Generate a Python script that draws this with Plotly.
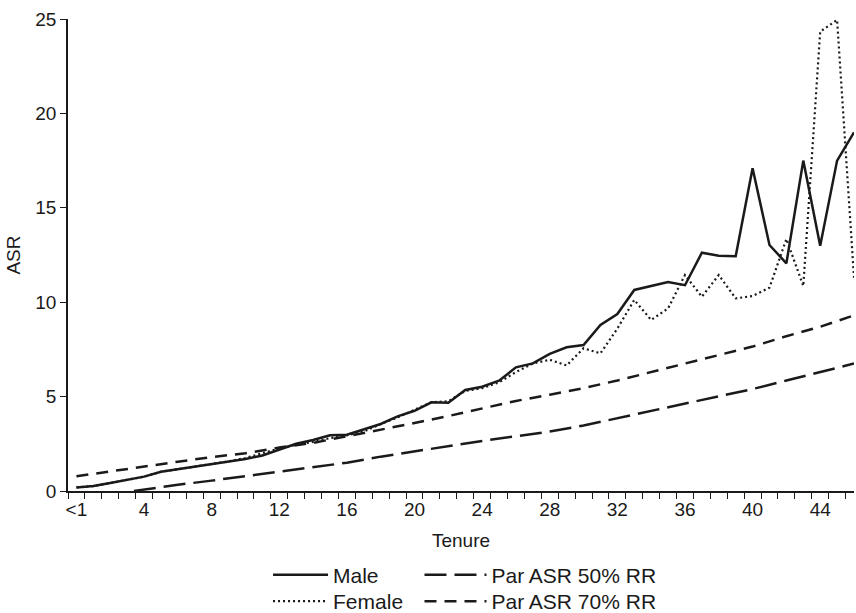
import plotly.graph_objects as go

tenure = list(range(0, 47))
tick_vals = [0, 4, 8, 12, 16, 20, 24, 28, 32, 36, 40, 44]
tick_text = ["<1", "4", "8", "12", "16", "20", "24", "28", "32", "36", "40", "44"]

male = [0.19, 0.26, 0.42, 0.60, 0.76, 1.02, 1.15, 1.30, 1.42, 1.55, 1.70, 1.88,
        2.20, 2.50, 2.70, 2.95, 2.98, 3.25, 3.55, 3.95, 4.25, 4.70, 4.68, 5.35,
        5.52, 5.84, 6.55, 6.76, 7.26, 7.61, 7.73, 8.79, 9.37, 10.65, 10.86, 11.07,
        10.90, 12.62, 12.46, 12.43, 17.09, 13.03, 12.06, 17.50, 12.99, 17.50, 19.00]

female = [0.19, 0.26, 0.42, 0.60, 0.76, 1.02, 1.15, 1.30, 1.42, 1.57, 1.75, 2.00,
          2.25, 2.45, 2.60, 2.80, 2.95, 3.15, 3.55, 3.90, 4.30, 4.70, 4.75, 5.30,
          5.45, 5.75, 6.30, 6.75, 6.95, 6.65, 7.56, 7.29, 8.60, 10.12, 9.06, 9.67,
          11.44, 10.29, 11.44, 10.20, 10.33, 10.77, 13.35, 10.86, 24.33, 24.95, 11.30]

par_tenure = [0, 2, 4, 6, 8, 10, 12, 14, 16, 18, 20, 22, 24, 26, 28, 30, 32, 34,
              36, 38, 40, 42, 44, 46]
par70 = [0.78, 1.05, 1.30, 1.55, 1.80, 2.00, 2.30, 2.55, 2.90, 3.23, 3.60, 3.97,
         4.35, 4.77, 5.10, 5.45, 5.85, 6.30, 6.75, 7.20, 7.65, 8.20, 8.70, 9.30]

par50_tenure = [3.4, 4, 6, 8, 10, 12, 14, 16, 18, 20, 22, 24, 26, 28, 30, 32, 34,
                36, 38, 40, 42, 44, 46]
par50 = [0.0, 0.08, 0.33, 0.55, 0.78, 1.00, 1.25, 1.50, 1.82, 2.10, 2.40, 2.65,
         2.90, 3.15, 3.47, 3.85, 4.25, 4.62, 5.00, 5.40, 5.85, 6.30, 6.75]

FONT = "Liberation Sans, Arial, sans-serif"
INK = "#1a1a1a"

fig = go.Figure()
fig.add_trace(go.Scatter(x=tenure, y=male, mode="lines", name="Male", showlegend=True,
                         line=dict(color=INK, width=2.5), legend="legend"))
fig.add_trace(go.Scatter(x=tenure, y=female, mode="lines", name="Female", showlegend=True,
                         line=dict(color=INK, width=2.2, dash="2px,3px"),
                         legend="legend2"))
fig.add_trace(go.Scatter(x=par50_tenure, y=par50, mode="lines", name="Par ASR 50% RR",
                         showlegend=True,
                         line=dict(color=INK, width=2.5, dash="22px,8px"),
                         legend="legend3"))
fig.add_trace(go.Scatter(x=par_tenure, y=par70, mode="lines", name="Par ASR 70% RR",
                         showlegend=True,
                         line=dict(color=INK, width=2.5, dash="12px,8px"),
                         legend="legend4"))

def leg(x, y, w):
    return dict(x=x, y=y, xanchor="left", yanchor="top", itemwidth=w,
                bgcolor="rgba(0,0,0,0)", font=dict(size=21), tracegroupgap=0)

fig.update_layout(
    width=856, height=613,
    showlegend=True,
    margin=dict(l=68, r=2, t=19, b=122, autoexpand=False),
    paper_bgcolor="white", plot_bgcolor="white",
    font=dict(family=FONT, size=19, color=INK),
    xaxis=dict(
        range=[-0.5, 46], tickvals=tick_vals, ticktext=tick_text,
        ticks="", showgrid=False, zeroline=False, automargin=False,
        showline=True, linecolor=INK, linewidth=1.5, tickangle=0,
        tickfont=dict(size=19),
        minor=dict(tick0=0.5, dtick=1, ticks="outside", ticklen=6,
                   tickcolor=INK, tickwidth=1, showgrid=False),
        title=dict(text="Tenure", font=dict(size=19)),
    ),
    yaxis=dict(
        range=[0, 25], tickvals=[0, 5, 10, 15, 20, 25],
        ticks="outside", ticklen=6, tickcolor=INK, tickwidth=1,
        showgrid=False, zeroline=False, automargin=True,
        showline=True, linecolor=INK, linewidth=1.5,
        tickfont=dict(size=19),
        title=dict(text="ASR", font=dict(size=19), standoff=10),
    ),
    legend=leg(0.2545, -0.1345, 55),
    legend2=leg(0.2545, -0.1907, 55),
    legend3=leg(0.4472, -0.1345, 62),
    legend4=leg(0.4472, -0.1907, 62),
)

fig.write_html(
    "out.html",
    config={"displayModeBar": False},
    post_script="document.body.style.margin='0';document.body.style.overflow='hidden';",
)
